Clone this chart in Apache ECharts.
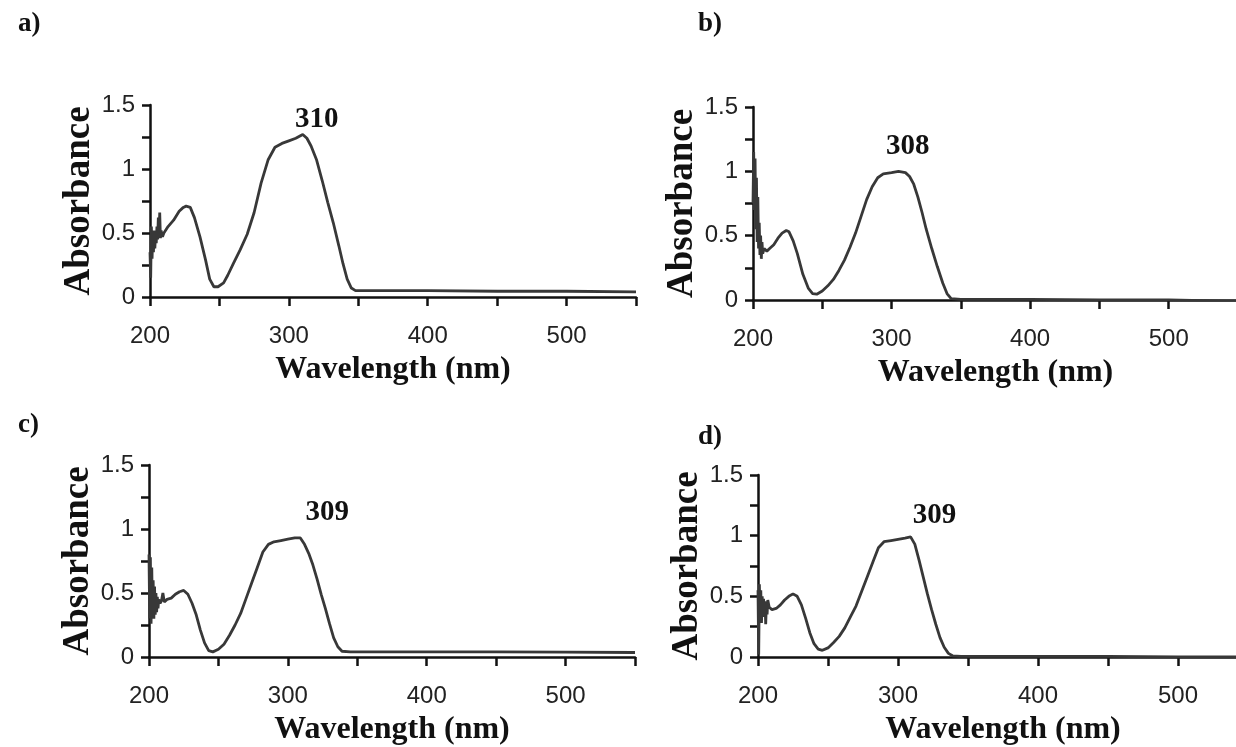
<!DOCTYPE html>
<html>
<head>
<meta charset="utf-8">
<script src="https://cdn.jsdelivr.net/npm/echarts@6/dist/echarts.min.js"></script>
<style>
  html, body { margin: 0; padding: 0; background: #fff; overflow: hidden; }
  /* a bit wider than the window: plots b and d run off the right edge */
  #spectra { width: 1270px; height: 747px; }
</style>
</head>
<body>
<div id="spectra"></div>
<script>
// panel a
var wlA = [200,200.5,201,201.5,202,202.5,203,203.5,204,204.5,205,205.5,206,206.5,207,207.5,208,209,210,213,217,221,224,226,229,232,236,240,243,246,249,253,256,260,265,270,275,280,285,290,295,300,305,310,313,316,320,324,328,332,336,339,342,345,348,400,450,500,550];
var absA = [0.35,0.15,0.55,0.3,0.5,0.35,0.52,0.38,0.5,0.42,0.55,0.45,0.62,0.48,0.66,0.46,0.52,0.47,0.5,0.55,0.6,0.67,0.7,0.71,0.7,0.62,0.47,0.29,0.14,0.08,0.08,0.11,0.17,0.26,0.37,0.49,0.66,0.89,1.07,1.17,1.2,1.22,1.24,1.27,1.24,1.18,1.07,0.91,0.74,0.58,0.4,0.26,0.14,0.07,0.05,0.05,0.045,0.045,0.04];
// panel b
var wlB = [200,200.5,201,201.5,202,202.5,203,203.5,204,204.5,205,205.5,206,206.5,207,208,210,212,215,218,221,224,226,229,232,236,240,243,246,250,254,258,262,266,270,274,278,282,286,290,294,300,305,310,313,316,319,322,325,329,333,337,340,343,350,400,450,500,550];
var absB = [0.75,1.15,0.7,1.1,0.55,0.95,0.45,0.8,0.4,0.6,0.35,0.5,0.32,0.45,0.36,0.4,0.38,0.4,0.43,0.48,0.52,0.54,0.53,0.46,0.36,0.2,0.09,0.05,0.045,0.07,0.11,0.16,0.23,0.31,0.41,0.52,0.65,0.78,0.88,0.95,0.98,0.99,1.0,0.99,0.96,0.9,0.8,0.68,0.55,0.4,0.26,0.13,0.05,0.01,0.005,0.005,0.0,0.0,-0.01];
// panel c
var wlC = [200,200.5,201,201.5,202,202.5,203,203.5,204,204.5,205,205.5,206,206.5,207,208,209,210,211,213,216,219,222,225,228,231,234,237,240,243,246,250,254,258,262,266,270,274,278,282,286,290,295,300,305,309,312,315,318,321,324,327,330,333,336,339,345,400,450,500,550];
var absC = [0.8,0.3,0.78,0.26,0.7,0.3,0.6,0.3,0.55,0.33,0.5,0.35,0.47,0.38,0.45,0.42,0.44,0.5,0.43,0.45,0.46,0.49,0.51,0.52,0.49,0.42,0.33,0.21,0.11,0.05,0.04,0.06,0.1,0.17,0.25,0.34,0.46,0.58,0.7,0.82,0.88,0.9,0.91,0.92,0.93,0.93,0.88,0.81,0.72,0.61,0.49,0.38,0.26,0.15,0.08,0.045,0.04,0.04,0.04,0.038,0.035];
// panel d
var wlD = [200,200.5,201,201.5,202,202.5,203,203.5,204,204.5,205,205.5,206,206.5,207,208,210,213,216,219,222,225,228,231,234,237,240,243,246,250,254,258,262,266,270,274,278,282,286,290,295,300,305,309,312,315,318,321,324,327,330,333,336,339,345,400,450,500,550];
var absD = [0.55,0.02,0.6,0.3,0.55,0.28,0.5,0.35,0.48,0.33,0.46,0.27,0.44,0.35,0.47,0.41,0.39,0.4,0.43,0.47,0.5,0.52,0.5,0.43,0.32,0.2,0.11,0.065,0.055,0.075,0.12,0.17,0.24,0.33,0.42,0.54,0.66,0.78,0.9,0.95,0.96,0.97,0.98,0.99,0.93,0.8,0.66,0.52,0.39,0.27,0.16,0.08,0.03,0.01,0.005,0.005,0.005,0.0,0.0];

var panelNames = ['a)', 'b)', 'c)', 'd)'];
var peakWl = [310, 308, 309, 309];
var peakAbs = [1.27, 1.0, 0.93, 0.99];

var wls = [wlA, wlB, wlC, wlD];
var abss = [absA, absB, absC, absD];

// layout of the four plots (pixels)
var boxes = [
  { left: 150, top: 105, width: 486, height: 192 },
  { left: 753, top: 107, width: 485, height: 193 },
  { left: 149, top: 465, width: 486, height: 192 },
  { left: 758, top: 475, width: 490, height: 183 }
];
var titlePos = [[13, 6], [693, 6], [13, 407], [693, 419]];
var peakOffset = [[14, -15], [5, -25], [27, -25], [24, -21]];

var chart = echarts.init(document.getElementById('spectra'));

var grids = [], xAxes = [], yAxes = [], series = [], titles = [];
for (var i = 0; i < 4; i++) {
  grids.push(boxes[i]);
  titles.push({
    text: panelNames[i],
    left: titlePos[i][0],
    top: titlePos[i][1],
    textStyle: { fontFamily: 'Liberation Serif', fontWeight: 'bold', fontSize: 27, color: '#111' }
  });
  xAxes.push({
    type: 'value',
    gridIndex: i,
    min: 200,
    max: 550,
    interval: 50,
    name: 'Wavelength (nm)',
    nameLocation: 'middle',
    nameGap: 57,
    nameTextStyle: { fontFamily: 'Liberation Serif', fontWeight: 'bold', fontSize: 32, color: '#111' },
    axisLine: { onZero: false, lineStyle: { color: '#111', width: 2.5 } },
    axisTick: { length: 9, lineStyle: { color: '#111', width: 2.5 } },
    axisLabel: {
      margin: 27,
      fontFamily: 'Liberation Sans',
      fontSize: 24,
      color: '#222',
      formatter: function (v) { return v % 100 === 0 ? String(v) : ''; }
    },
    splitLine: { show: false }
  });
  yAxes.push({
    type: 'value',
    gridIndex: i,
    min: 0,
    max: 1.5,
    interval: 0.25,
    name: 'Absorbance',
    nameLocation: 'middle',
    nameGap: 46,
    nameRotate: 90,
    nameTextStyle: { fontFamily: 'Liberation Serif', fontWeight: 'bold', fontSize: 37, color: '#111' },
    axisLine: { show: true, onZero: false, lineStyle: { color: '#111', width: 2.5 } },
    axisTick: { show: true, length: 8, lineStyle: { color: '#111', width: 2.5 } },
    axisLabel: {
      margin: 15,
      fontFamily: 'Liberation Sans',
      fontSize: 24,
      color: '#222',
      formatter: function (v) {
        return Math.abs(v * 2 - Math.round(v * 2)) < 1e-9 ? String(v) : '';
      }
    },
    splitLine: { show: false }
  });
  var pts = [];
  for (var k = 0; k < wls[i].length; k++) pts.push([wls[i][k], abss[i][k]]);
  series.push({
    type: 'line',
    xAxisIndex: i,
    yAxisIndex: i,
    data: pts,
    showSymbol: false,
    lineStyle: { color: '#383838', width: 2.8 },
    markPoint: {
      symbolSize: 0,
      itemStyle: { color: 'rgba(0,0,0,0)' },
      label: {
        show: true,
        position: 'inside',
        offset: peakOffset[i],
        fontFamily: 'Liberation Serif',
        fontWeight: 'bold',
        fontSize: 29,
        color: '#111',
        formatter: '{c}'
      },
      data: [{ coord: [peakWl[i], peakAbs[i]], value: peakWl[i] }]
    }
  });
}

chart.setOption({
  animation: false,
  backgroundColor: '#fff',
  title: titles,
  grid: grids,
  xAxis: xAxes,
  yAxis: yAxes,
  series: series
});
window.addEventListener('resize', function () { chart.resize(); });
</script>
</body>
</html>
